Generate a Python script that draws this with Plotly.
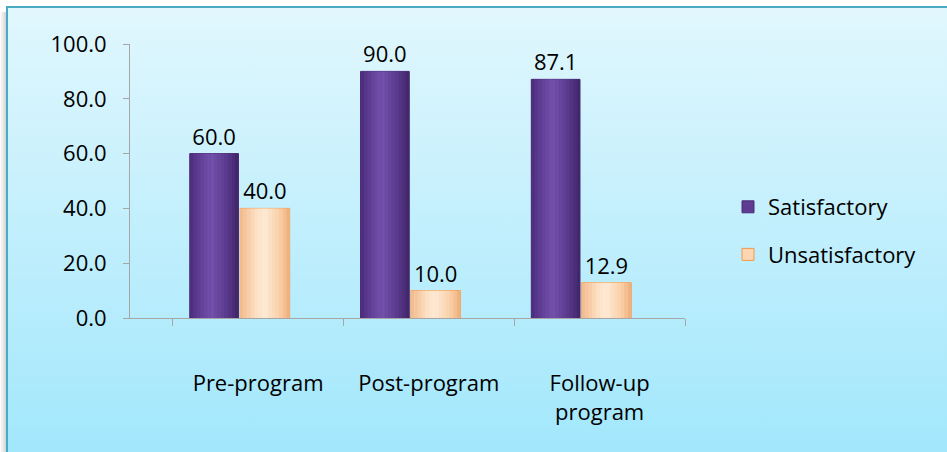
import base64
import plotly.graph_objects as go

categories = ["Pre-program", "Post-program", "Follow-up<br>program"]
satisfactory = [60.0, 90.0, 87.1]
unsatisfactory = [40.0, 10.0, 12.9]
y_ticks = [0, 20, 40, 60, 80, 100]
y_tick_labels = ["0.0", "20.0", "40.0", "60.0", "80.0", "100.0"]

W, H = 947, 452
ML, MR, MT, MB = 130, 262, 44, 134
PW, PH = W - ML - MR, H - MT - MB


def px(x):
    return (x - ML) / PW


def py(y):
    return (H - MB - y) / PH


def mix(c1, c2, t):
    a = [int(c1[i:i + 2], 16) for i in (1, 3, 5)]
    b = [int(c2[i:i + 2], 16) for i in (1, 3, 5)]
    return "#" + "".join(f"{round(a[k] + (b[k] - a[k]) * t):02x}" for k in range(3))


def shade(profile, t):
    for (p0, c0), (p1, c1) in zip(profile, profile[1:]):
        if p0 <= t <= p1:
            return mix(c0, c1, (t - p0) / (p1 - p0) if p1 > p0 else 0)
    return profile[-1][1]


FONT = "Open Sans"
series = [
    dict(name="Satisfactory", values=satisfactory, offset=-0.40, width=0.285,
         base="#5e3c92", line="#4a2d78",
         profile=[(0, "#4a2c7a"), (0.3, "#6a47a2"), (0.45, "#7352ab"),
                  (0.75, "#5a3a8e"), (1, "#3f2468")]),
    dict(name="Unsatisfactory", values=unsatisfactory, offset=-0.105, width=0.29,
         base="#fcd6b2", line="#f39a4e",
         profile=[(0, "#f2b98a"), (0.35, "#fde3c8"), (0.5, "#feead6"),
                  (0.8, "#f9cfa6"), (1, "#eeac78")]),
]

fig = go.Figure()
NS = 14
for s in series:
    fig.add_trace(go.Bar(
        x=categories, y=s["values"], name=s["name"],
        offset=s["offset"], width=s["width"],
        marker=dict(color=s["base"], line=dict(color=s["line"], width=1)),
        text=[f"{v:.1f}" for v in s["values"]], textposition="outside",
        textfont=dict(size=22, color="#000000", family=FONT),
        cliponaxis=False, legendgroup=s["name"],
    ))
    sw = s["width"] / NS
    for i in range(NS):
        fig.add_trace(go.Bar(
            x=categories, y=s["values"], name=s["name"],
            offset=s["offset"] + i * sw, width=sw * 1.02,
            marker=dict(color=shade(s["profile"], (i + 0.5) / NS), line=dict(width=0)),
            showlegend=False, hoverinfo="skip", legendgroup=s["name"],
        ))

svg = (
    '<svg xmlns="http://www.w3.org/2000/svg" width="100" height="100" preserveAspectRatio="none">'
    '<defs><linearGradient id="g" x1="0" y1="0" x2="0" y2="1">'
    '<stop offset="0" stop-color="#e1f7fd"/><stop offset="1" stop-color="#a2e7fc"/>'
    '</linearGradient></defs><rect width="100" height="100" fill="url(#g)"/></svg>'
)
src = "data:image/svg+xml;base64," + base64.b64encode(svg.encode()).decode()

shadow_svg = (
    '<svg xmlns="http://www.w3.org/2000/svg" width="10" height="10" preserveAspectRatio="none">'
    '<defs><linearGradient id="s" x1="0" y1="0" x2="1" y2="0">'
    '<stop offset="0" stop-color="#ffffff"/><stop offset="1" stop-color="#d4d4d4"/>'
    '</linearGradient></defs><rect width="10" height="10" fill="url(#s)"/></svg>'
)
shadow_src = "data:image/svg+xml;base64," + base64.b64encode(shadow_svg.encode()).decode()

fig.update_layout(
    width=W, height=H,
    margin=dict(l=ML, r=MR, t=MT, b=MB, pad=0),
    paper_bgcolor="#ffffff", plot_bgcolor="rgba(0,0,0,0)",
    barmode="overlay",
    font=dict(family=FONT, size=22, color="#000000"),
    showlegend=True,
    legend=dict(x=px(728), y=py(186), xanchor="left", yanchor="top",
                bgcolor="rgba(0,0,0,0)", font=dict(size=22, family=FONT),
                traceorder="grouped", tracegroupgap=16, itemwidth=30),
    images=[
        dict(source=src, xref="paper", yref="paper",
             x=px(6), y=py(7), sizex=px(W) - px(6), sizey=py(7) - py(H),
             xanchor="left", yanchor="top", sizing="stretch", layer="below"),
        dict(source=shadow_src, xref="paper", yref="paper",
             x=px(0), y=py(12), sizex=px(6) - px(0), sizey=py(12) - py(H),
             xanchor="left", yanchor="top", sizing="stretch", layer="below"),
    ],
    shapes=[
        dict(type="line", xref="paper", yref="paper",
             x0=px(6), x1=px(W), y0=py(7), y1=py(7),
             line=dict(color="#4aa9c3", width=2), layer="above"),
        dict(type="line", xref="paper", yref="paper",
             x0=px(7), x1=px(7), y0=py(7), y1=py(H),
             line=dict(color="#4aa9c3", width=2), layer="above"),
    ],
    xaxis=dict(type="category", range=[-0.75, 2.5],
               categoryorder="array", categoryarray=categories,
               showline=True, linecolor="#a6a6a6", linewidth=1,
               ticks="outside", tickson="boundaries", ticklen=7, tickcolor="#a6a6a6",
               showgrid=False, zeroline=False,
               ticklabelstandoff=46, tickfont=dict(size=22, family=FONT)),
    yaxis=dict(range=[0, 100], tickvals=y_ticks, ticktext=y_tick_labels,
               showline=True, linecolor="#a6a6a6", linewidth=1,
               ticks="outside", ticklen=6, tickcolor="#a6a6a6",
               showgrid=False, zeroline=False, ticklabelstandoff=12,
               tickfont=dict(size=22, family=FONT)),
)

fig.write_html("out.html", post_script="document.body.style.margin='0';",
               config={"displayModeBar": False})
